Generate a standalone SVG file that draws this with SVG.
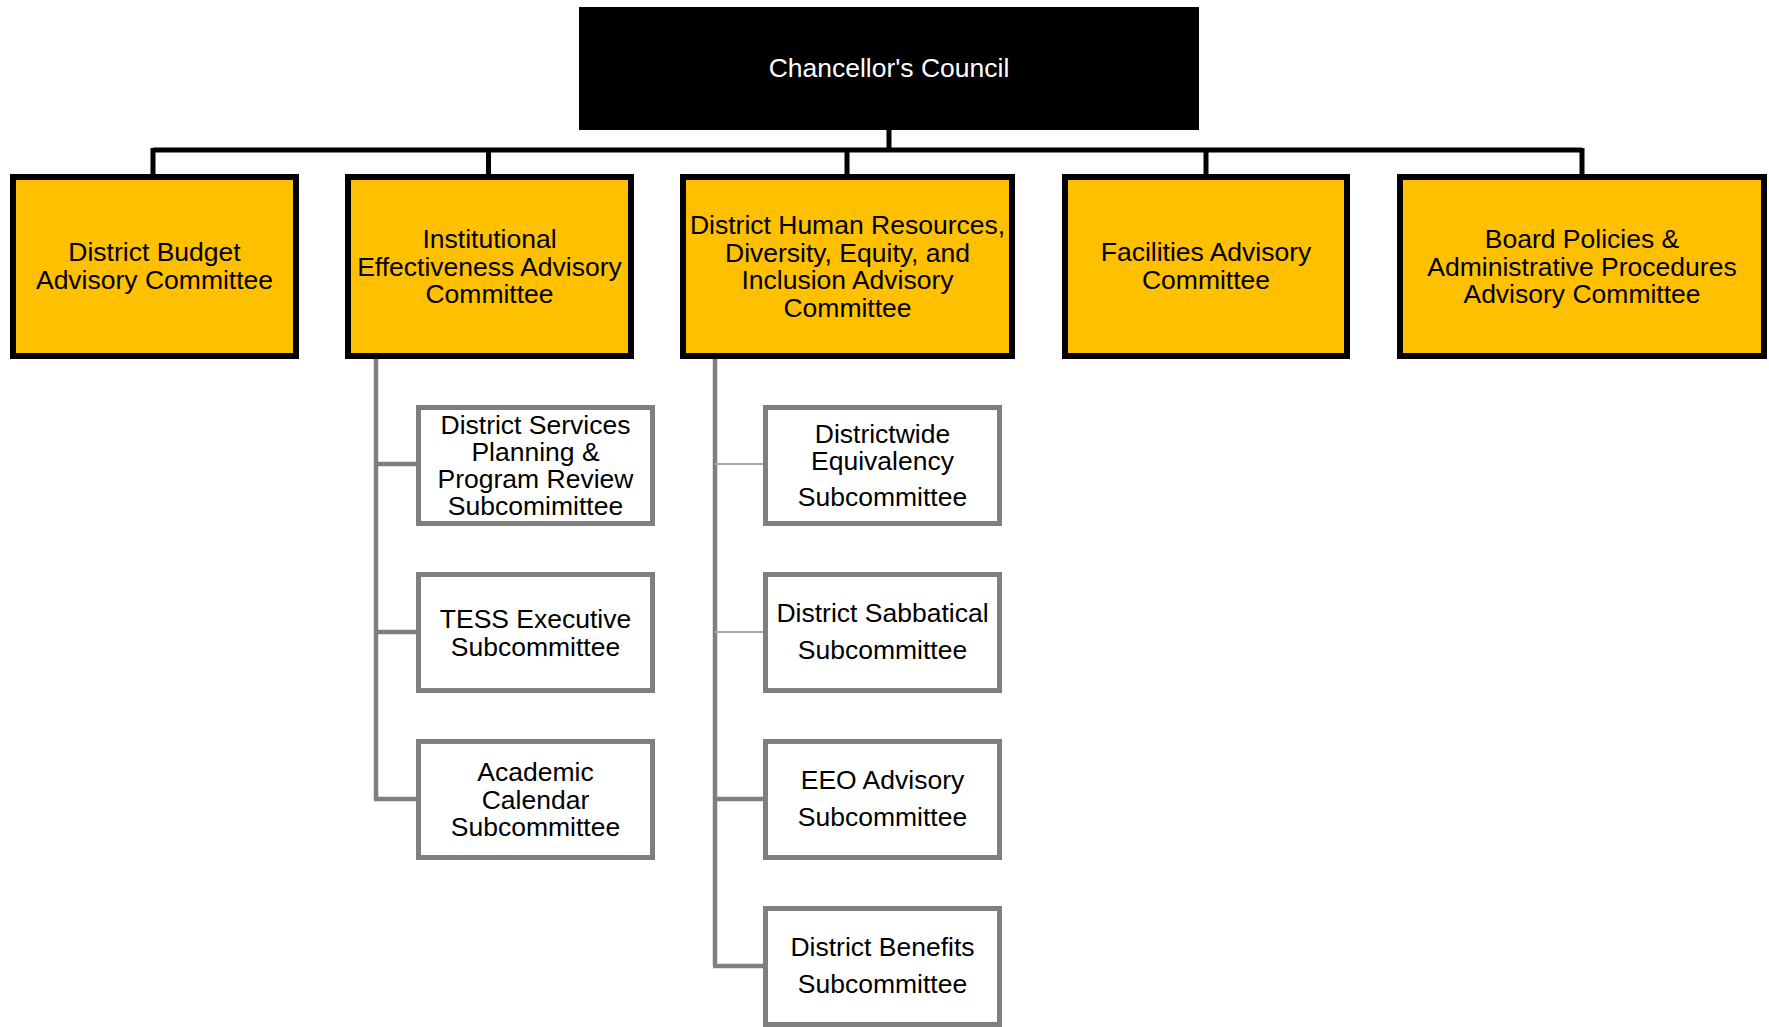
<svg xmlns="http://www.w3.org/2000/svg" width="1769" height="1027" viewBox="0 0 1769 1027">
<style>
.top{fill:#000;stroke:#000;stroke-width:2}
.cmt{fill:#FFC000;stroke:#000;stroke-width:6}
.sub{fill:#fff;stroke:#7F7F7F;stroke-width:5}
.lk{fill:none;stroke:#000;stroke-width:5}
.lg{fill:none;stroke:#7F7F7F;stroke-width:4.5}
.lt{fill:none;stroke:#A6A6A6;stroke-width:2}
text{font-family:"Liberation Sans",Arial,sans-serif;font-size:26.5px;text-anchor:middle;fill:#000}
.w{fill:#fff}
</style>
<g id="connectors">
<path class="lk" d="M889 129V150M153 150H1582M153 148V177M488.5 148V177M847 148V177M1206 148V177M1582 148V177"/>
<path class="lg" d="M376 358V799M374 464H419M374 632H419M374 799H419"/>
<path class="lg" d="M715 358V966M713 799H766M713 966H766"/>
<path class="lt" d="M715 464H766M715 632H766"/>
</g>
<g id="chancellors-council">
<rect class="top" x="580" y="8" width="618" height="121"/>
<text class="w" x="889" y="77">Chancellor's Council</text>
</g>
<g id="district-budget">
<rect class="cmt" x="13" y="177" width="283" height="179"/>
<text x="154.5" y="261">District Budget</text>
<text x="154.5" y="289">Advisory Committee</text>
</g>
<g id="institutional-effectiveness">
<rect class="cmt" x="348" y="177" width="283" height="179"/>
<text x="489.5" y="248">Institutional</text>
<text x="489.5" y="276">Effectiveness Advisory</text>
<text x="489.5" y="303">Committee</text>
</g>
<g id="district-hr">
<rect class="cmt" x="683" y="177" width="329" height="179"/>
<text x="847.5" y="234">District Human Resources,</text>
<text x="847.5" y="262">Diversity, Equity, and</text>
<text x="847.5" y="289">Inclusion Advisory</text>
<text x="847.5" y="317">Committee</text>
</g>
<g id="facilities">
<rect class="cmt" x="1065" y="177" width="282" height="179"/>
<text x="1206" y="261">Facilities Advisory</text>
<text x="1206" y="289">Committee</text>
</g>
<g id="board-policies">
<rect class="cmt" x="1400" y="177" width="364" height="179"/>
<text x="1582" y="248">Board Policies &amp;</text>
<text x="1582" y="276">Administrative Procedures</text>
<text x="1582" y="303">Advisory Committee</text>
</g>
<g id="district-services">
<rect class="sub" x="418.5" y="407.5" width="234" height="116"/>
<text x="535.5" y="434">District Services</text>
<text x="535.5" y="461">Planning &amp;</text>
<text x="535.5" y="488">Program Review</text>
<text x="535.5" y="515">Subcomimittee</text>
</g>
<g id="tess-executive">
<rect class="sub" x="418.5" y="574.5" width="234" height="116"/>
<text x="535.5" y="628">TESS Executive</text>
<text x="535.5" y="656">Subcommittee</text>
</g>
<g id="academic-calendar">
<rect class="sub" x="418.5" y="741.5" width="234" height="116"/>
<text x="535.5" y="781">Academic</text>
<text x="535.5" y="809">Calendar</text>
<text x="535.5" y="836">Subcommittee</text>
</g>
<g id="districtwide-equivalency">
<rect class="sub" x="765.5" y="407.5" width="234" height="116"/>
<text x="882.5" y="443">Districtwide</text>
<text x="882.5" y="470">Equivalency</text>
<text x="882.5" y="506">Subcommittee</text>
</g>
<g id="district-sabbatical">
<rect class="sub" x="765.5" y="574.5" width="234" height="116"/>
<text x="882.5" y="622">District Sabbatical</text>
<text x="882.5" y="659">Subcommittee</text>
</g>
<g id="eeo-advisory">
<rect class="sub" x="765.5" y="741.5" width="234" height="116"/>
<text x="882.5" y="789">EEO Advisory</text>
<text x="882.5" y="826">Subcommittee</text>
</g>
<g id="district-benefits">
<rect class="sub" x="765.5" y="908.5" width="234" height="116"/>
<text x="882.5" y="956">District Benefits</text>
<text x="882.5" y="993">Subcommittee</text>
</g>
</svg>
